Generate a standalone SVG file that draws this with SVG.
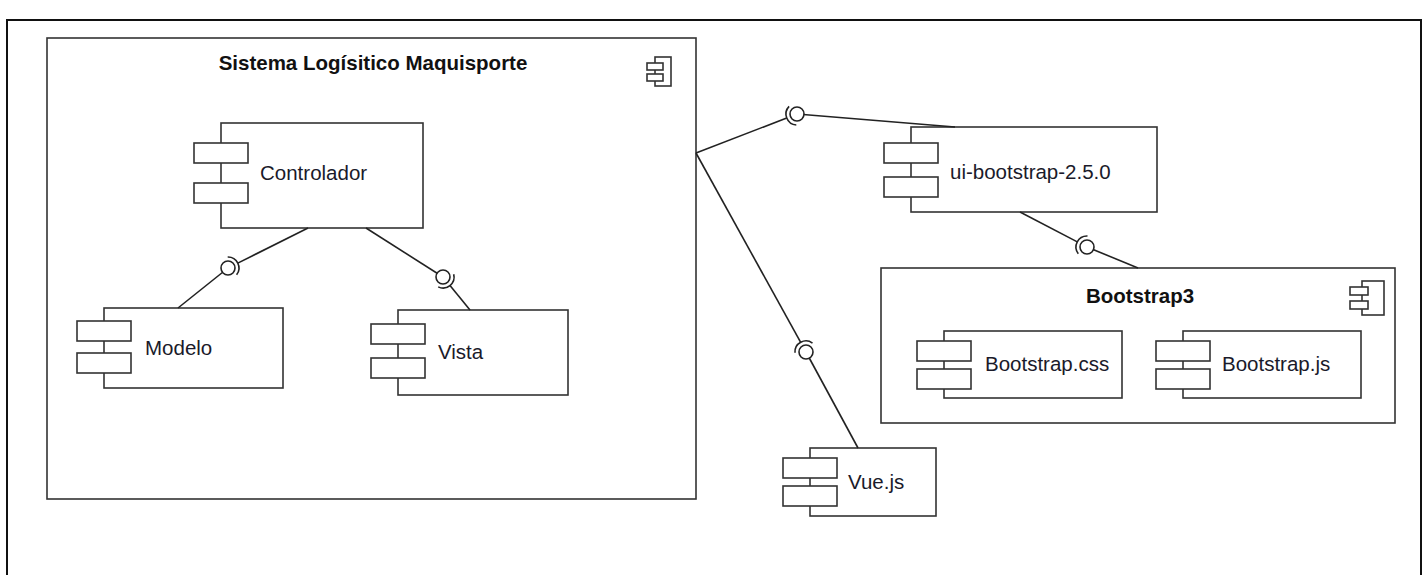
<svg xmlns="http://www.w3.org/2000/svg" width="1426" height="575" viewBox="0 0 1426 575">
<style>
.box{fill:#fff;stroke:#333;stroke-width:1.6}
.port{fill:#fff;stroke:#333;stroke-width:1.6}
.lbl{font-family:"Liberation Sans",Arial,sans-serif;font-size:20.5px;fill:#1a1a2a}
.ttl{font-family:"Liberation Sans",Arial,sans-serif;font-size:20.5px;font-weight:bold;fill:#111}
.ln{fill:none;stroke:#222;stroke-width:1.6}
.ball{fill:#fff;stroke:#222;stroke-width:1.6}
.sock{fill:none;stroke:#222;stroke-width:1.6}
</style>
<rect x="0" y="0" width="1426" height="575" fill="#fff"/>
<rect x="7" y="20" width="1414" height="570" fill="none" stroke="#111" stroke-width="2"/>
<g id="sistema">
<rect class="box" x="47" y="38" width="649" height="461"/>
<text class="ttl" x="373" y="70" text-anchor="middle">Sistema Logísitico Maquisporte</text>
<rect class="box" x="655" y="57" width="16" height="29"/>
<rect class="port" x="647" y="63" width="16" height="7"/>
<rect class="port" x="647" y="74" width="16" height="7"/>
</g>
<g id="controlador">
<rect class="box" x="221" y="123" width="202" height="105"/>
<rect class="port" x="194" y="143" width="54" height="20"/>
<rect class="port" x="194" y="183" width="54" height="20"/>
<text class="lbl" x="260" y="180">Controlador</text>
</g>
<g id="modelo">
<rect class="box" x="104" y="308" width="179" height="80"/>
<rect class="port" x="77" y="321" width="54" height="20"/>
<rect class="port" x="77" y="353" width="54" height="20"/>
<text class="lbl" x="145" y="355">Modelo</text>
</g>
<g id="vista">
<rect class="box" x="398" y="310" width="170" height="85"/>
<rect class="port" x="371" y="324" width="54" height="20"/>
<rect class="port" x="371" y="358" width="54" height="20"/>
<text class="lbl" x="438" y="359">Vista</text>
</g>
<g id="ui-bootstrap">
<rect class="box" x="911" y="127" width="246" height="85"/>
<rect class="port" x="884" y="143" width="54" height="20"/>
<rect class="port" x="884" y="177" width="54" height="20"/>
<text class="lbl" x="950" y="179">ui-bootstrap-2.5.0</text>
</g>
<g id="bootstrap3">
<rect class="box" x="881" y="268" width="514" height="155"/>
<text class="ttl" x="1140" y="303" text-anchor="middle">Bootstrap3</text>
<rect class="box" x="1362" y="281" width="22" height="34"/>
<rect class="port" x="1350" y="287" width="18" height="8"/>
<rect class="port" x="1350" y="301" width="18" height="8"/>
</g>
<g id="bootstrap-css">
<rect class="box" x="944" y="331" width="178" height="67"/>
<rect class="port" x="917" y="341" width="54" height="20"/>
<rect class="port" x="917" y="369" width="54" height="20"/>
<text class="lbl" x="985" y="371">Bootstrap.css</text>
</g>
<g id="bootstrap-js">
<rect class="box" x="1183" y="331" width="178" height="67"/>
<rect class="port" x="1156" y="341" width="54" height="20"/>
<rect class="port" x="1156" y="369" width="54" height="20"/>
<text class="lbl" x="1222" y="371">Bootstrap.js</text>
</g>
<g id="vue">
<rect class="box" x="810" y="448" width="126" height="68"/>
<rect class="port" x="783" y="458" width="54" height="20"/>
<rect class="port" x="783" y="486" width="54" height="20"/>
<text class="lbl" x="848" y="489">Vue.js</text>
</g>
<g id="connectors">
<path class="ln" d="M696 153 L786.7 118"/>
<path class="ln" d="M797 114 L955 127"/>
<circle class="ball" cx="797" cy="114" r="7"/>
<path class="sock" d="M796.3 125 A11 11 0 0 1 789.1 106.4"/>

<path class="ln" d="M308 228 L237.8 263.1"/>
<path class="ln" d="M228 268 L178 308"/>
<circle class="ball" cx="228" cy="268" r="7"/>
<path class="sock" d="M227.7 257 A11 11 0 0 1 236.6 274.8"/>

<path class="ln" d="M366 228 L443 277"/>
<path class="ln" d="M450 285.5 L470 310"/>
<circle class="ball" cx="443" cy="277" r="7"/>
<path class="sock" d="M453.7 274.3 A11 11 0 0 1 438.2 286.9"/>

<path class="ln" d="M1020 212 L1077.3 241.9"/>
<path class="ln" d="M1087 247 L1138 268"/>
<circle class="ball" cx="1087" cy="247" r="7"/>
<path class="sock" d="M1078.3 253.7 A11 11 0 0 1 1087.5 236"/>

<path class="ln" d="M696 153 L800.7 342.4"/>
<path class="ln" d="M806 352 L858 448"/>
<circle class="ball" cx="806" cy="352" r="7"/>
<path class="sock" d="M795 352.7 A11 11 0 0 1 812.5 343.1"/>
</g>
</svg>
